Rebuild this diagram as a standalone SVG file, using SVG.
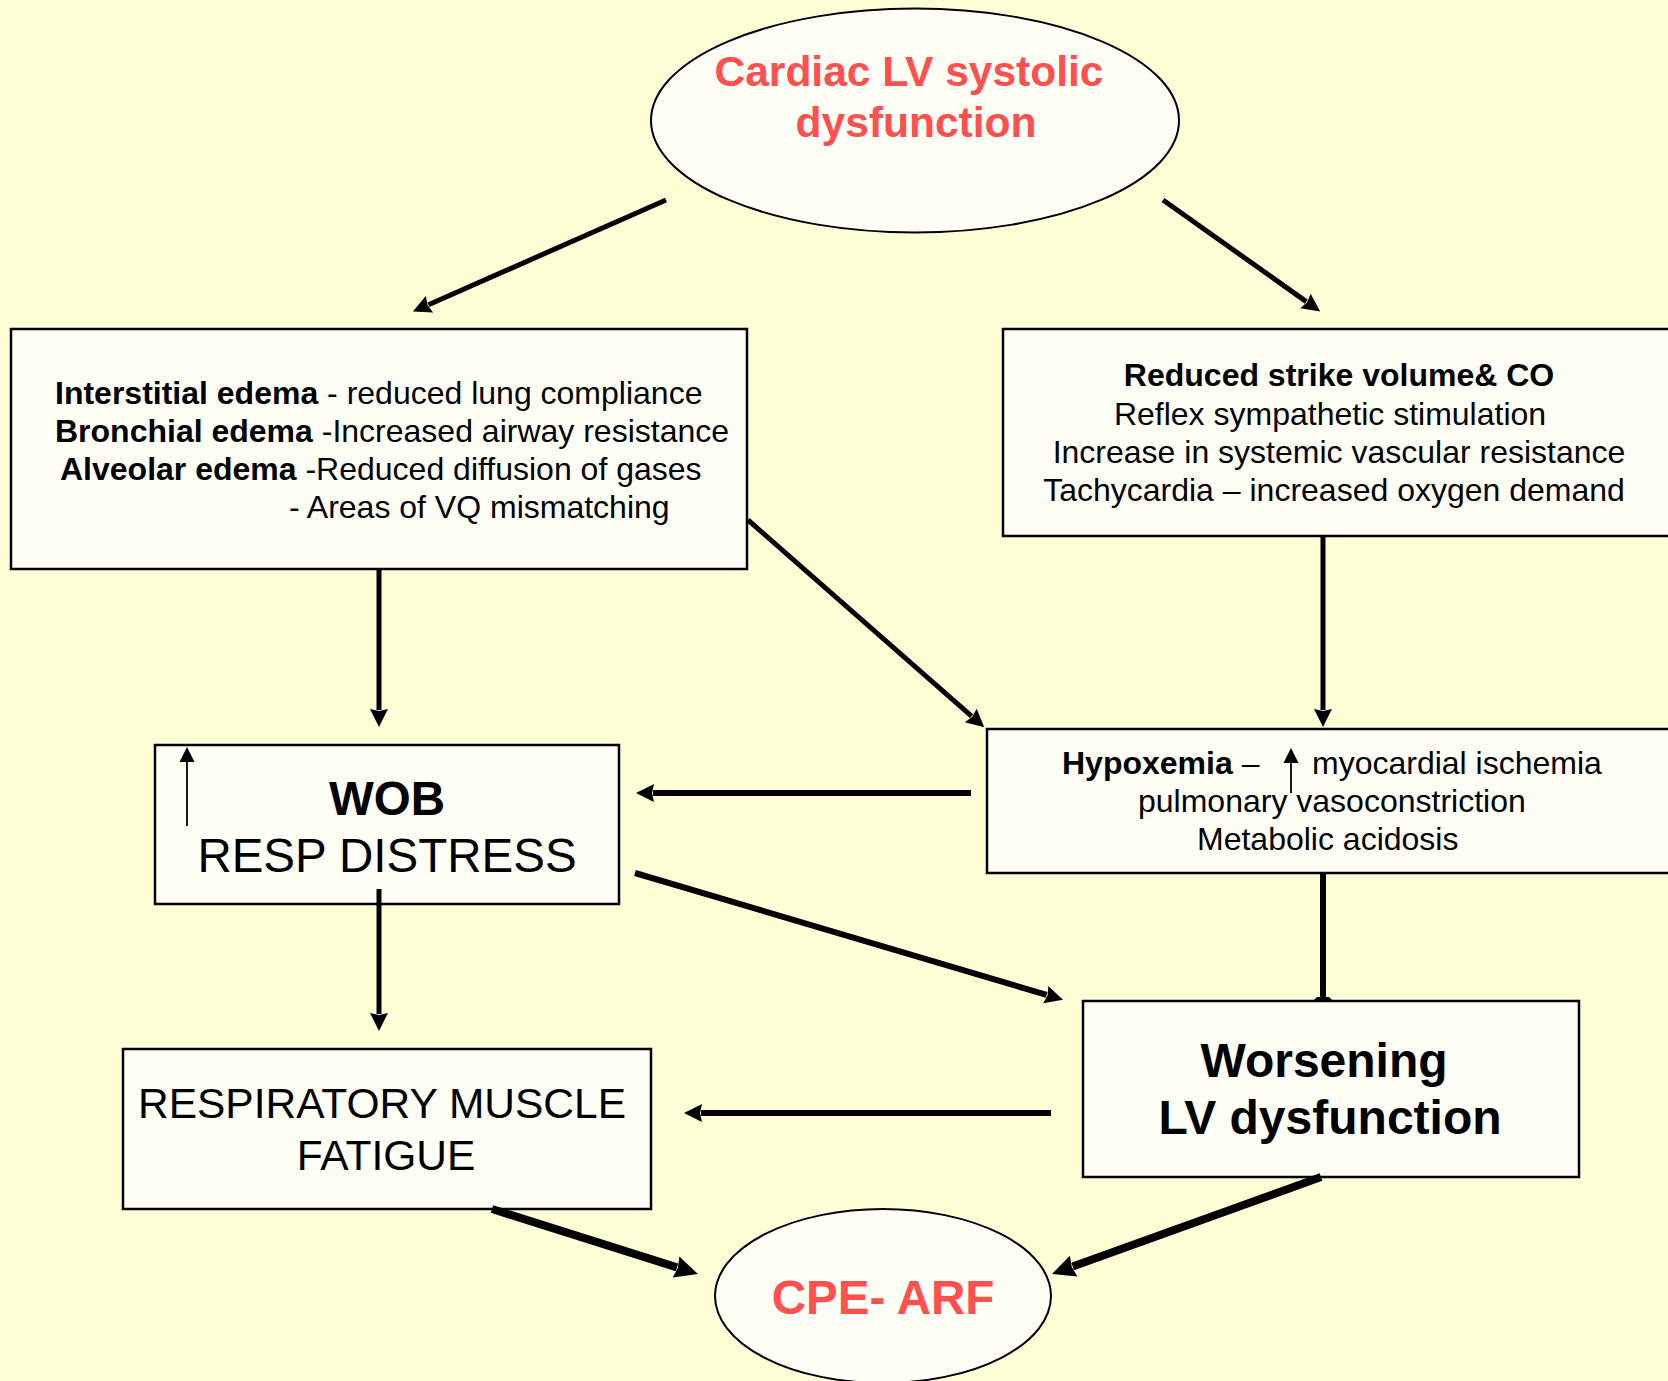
<svg xmlns="http://www.w3.org/2000/svg" width="1668" height="1381" viewBox="0 0 1668 1381">
<style>
.bg{fill:#FFFFD7}
.box{fill:#FFFFF5;stroke:#000;stroke-width:2.5}
.ell{fill:#FFFFF5;stroke:#000;stroke-width:2}
text{font-family:"Liberation Sans",Arial,sans-serif;fill:#000}
.b{font-weight:bold}
.t32{font-size:32px}
.t42{font-size:42.5px}
.t47{font-size:47.5px}
.red{fill:#FF5050;font-weight:bold}
.c{stroke:#000;fill:none}
.w5{stroke-width:5}
.w6{stroke-width:6}
.w8{stroke-width:8}
.thin{stroke:#000;stroke-width:1.8;fill:none}
</style>
<defs>
<marker id="ah" markerUnits="userSpaceOnUse" markerWidth="22" markerHeight="20" refX="1" refY="9" orient="auto" overflow="visible">
<path d="M0,0 L18,9 L0,18 L2,9 Z" fill="#000"/>
</marker>
<marker id="ahb" markerUnits="userSpaceOnUse" markerWidth="26" markerHeight="24" refX="1" refY="11" orient="auto" overflow="visible">
<path d="M0,0 L23,11 L0,22 L2,11 Z" fill="#000"/>
</marker>
<marker id="ahs" markerUnits="userSpaceOnUse" markerWidth="16" markerHeight="16" refX="1" refY="7.5" orient="auto" overflow="visible">
<path d="M0,0 L15,7.5 L0,15 Z" fill="#000"/>
</marker>
</defs>
<rect class="bg" x="0" y="0" width="1668" height="1381"/>

<g id="node-cardiac">
<ellipse class="ell" cx="915" cy="120.5" rx="264" ry="112"/>
<text class="red" font-size="42.5" x="909" y="86" text-anchor="middle">Cardiac LV systolic</text>
<text class="red" font-size="42.5" x="916" y="137" text-anchor="middle">dysfunction</text>
</g>

<g id="node-edema">
<rect class="box" x="11" y="329" width="736" height="240"/>
<text class="t32" x="55" y="404"><tspan class="b">Interstitial edema</tspan> - reduced lung compliance</text>
<text class="t32" x="55" y="442"><tspan class="b">Bronchial edema</tspan> -Increased airway resistance</text>
<text class="t32" x="60" y="480"><tspan class="b">Alveolar edema</tspan> -Reduced diffusion of gases</text>
<text class="t32" x="289" y="518">- Areas of VQ mismatching</text>
</g>

<g id="node-stroke-volume">
<rect class="box" x="1003" y="329" width="680" height="207"/>
<text class="t32 b" x="1339" y="386" text-anchor="middle">Reduced strike volume&amp; CO</text>
<text class="t32" x="1330" y="425" text-anchor="middle">Reflex sympathetic stimulation</text>
<text class="t32" x="1339" y="463" text-anchor="middle">Increase in systemic vascular resistance</text>
<text class="t32" x="1334" y="501" text-anchor="middle">Tachycardia – increased oxygen demand</text>
</g>

<g id="node-hypoxemia">
<rect class="box" x="987" y="729" width="696" height="144"/>
<text class="t32" x="1062" y="774"><tspan class="b">Hypoxemia</tspan> –</text>
<line class="thin" x1="1291" y1="793" x2="1291" y2="762" marker-end="url(#ahs)"/>
<text class="t32" x="1312" y="774">myocardial ischemia</text>
<text class="t32" x="1138" y="812">pulmonary vasoconstriction</text>
<text class="t32" x="1197" y="850">Metabolic acidosis</text>
</g>

<g id="node-wob">
<rect class="box" x="155" y="745" width="464" height="159"/>
<line class="thin" x1="187" y1="826" x2="187" y2="761" marker-end="url(#ahs)"/>
<text class="t47 b" x="387" y="815" text-anchor="middle">WOB</text>
<text class="t47" x="387" y="872" text-anchor="middle">RESP DISTRESS</text>
</g>

<g id="node-worsening">
<rect class="box" x="1083" y="1001" width="496" height="176"/>
<text class="b" font-size="48" x="1324" y="1077" text-anchor="middle">Worsening</text>
<text class="b" font-size="48" x="1330" y="1134" text-anchor="middle">LV dysfunction</text>
</g>

<g id="node-fatigue">
<rect class="box" x="123" y="1049" width="528" height="160"/>
<text class="t42" x="382" y="1118" text-anchor="middle">RESPIRATORY MUSCLE</text>
<text class="t42" x="386" y="1170" text-anchor="middle">FATIGUE</text>
</g>

<g id="node-cpe">
<ellipse class="ell" cx="883" cy="1296" rx="168" ry="87"/>
<text class="red" font-size="47.5" x="883" y="1314" text-anchor="middle">CPE- ARF</text>
</g>

<g id="connectors">
<line class="c w5" x1="666" y1="200" x2="428.5" y2="304.7" marker-end="url(#ah)"/>
<line class="c w5" x1="1163" y1="200" x2="1306.3" y2="301.6" marker-end="url(#ah)"/>
<line class="c w5" x1="379" y1="568" x2="379" y2="710" marker-end="url(#ah)"/>
<line class="c w5" x1="748" y1="520" x2="971.5" y2="716.1" marker-end="url(#ah)"/>
<line class="c w5" x1="1323" y1="536" x2="1323" y2="710" marker-end="url(#ah)"/>
<line class="c w6" x1="971" y1="793" x2="653" y2="793" marker-end="url(#ah)"/>
<line class="c w6" x1="635" y1="873" x2="1046.7" y2="994.9" marker-end="url(#ah)"/>
<line class="c w5" x1="379" y1="889" x2="379" y2="1014" marker-end="url(#ah)"/>
<line class="c w6" x1="1323" y1="873" x2="1323" y2="1000"/>
<polygon points="1317,997 1329,997 1332,1000 1314,1000" fill="#000"/>
<line class="c w6" x1="1051" y1="1113" x2="701" y2="1113" marker-end="url(#ah)"/>
<line class="c w8" x1="492" y1="1209" x2="677" y2="1267.4" marker-end="url(#ahb)"/>
<line class="c w8" x1="1321" y1="1177" x2="1072.7" y2="1266.5" marker-end="url(#ahb)"/>
</g>
</svg>
